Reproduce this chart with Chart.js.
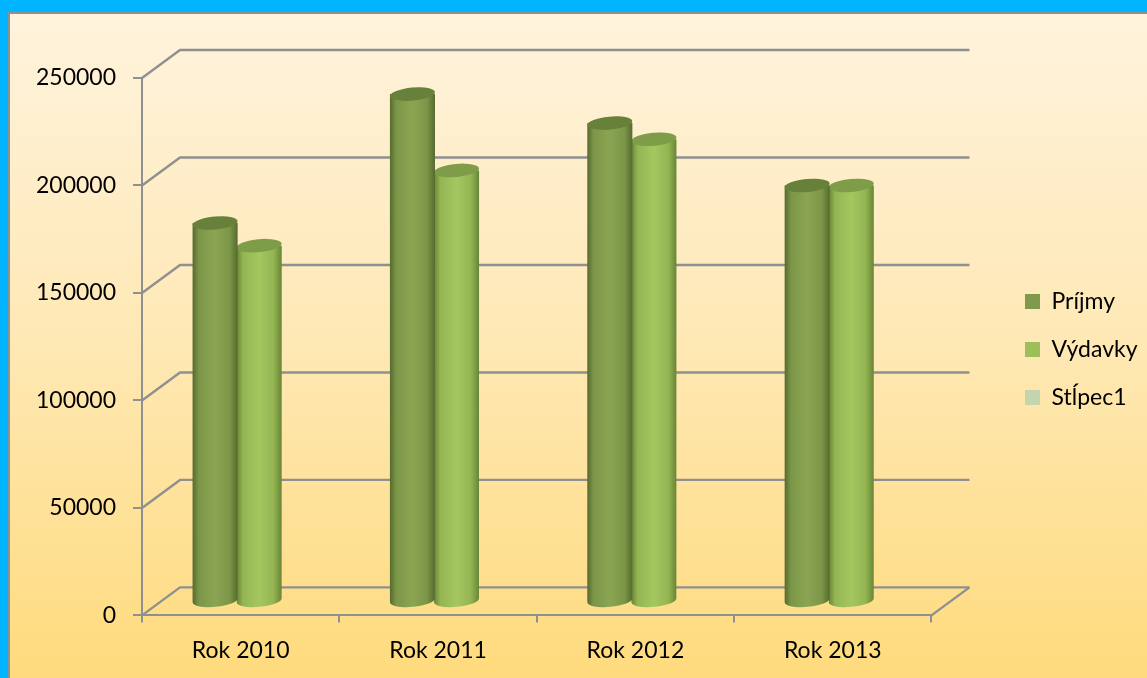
<!DOCTYPE html>
<html><head><meta charset="utf-8">
<style>html,body{margin:0;padding:0;background:#00b4ff}#w{position:absolute;left:0;top:0;width:1147px;height:678px}</style>
<script src="https://cdn.jsdelivr.net/npm/chart.js@4"></script>
</head><body><div id="w"><canvas id="c"></canvas></div>
<script>
const categories = ["Rok 2010","Rok 2011","Rok 2012","Rok 2013"];
const prijmy = [176000,236000,222500,193500];
const vydavky = [165500,200500,215000,193500];
const stlpec1 = [null,null,null,null];
const tickValues = [0,50000,100000,150000,200000,250000];

const DEPTH_X = 38, DEPTH_Y = 28;
const GRID = '#8f9090';
const shades = [
  {edge:'#566b2e',soft:'#7c9648',mid:'#8aa552',top:'#67803a'},
  {edge:'#688536',soft:'#94b552',mid:'#a5c760',top:'#7f9c48'},
  {edge:'#8faa8f',soft:'#b5caa2',mid:'#c4d6ae',top:'#a9c09a'}
];
const cylinders = {
  id:'cylinders',
  beforeDatasetDraw(chart,args){
    const ctx=chart.ctx, meta=args.meta, s=shades[args.index], yS=chart.scales.y;
    const zero=yS.getPixelForValue(0);
    meta.data.forEach((b,i)=>{
      if(chart.data.datasets[args.index].data[i]==null) return;
      const cx=b.x+DEPTH_X/2-0.5, rx=b.width/2+0.5, ry=6.5;
      const top=b.y-DEPTH_Y/2, base=zero-DEPTH_Y/2-1;
      const g=ctx.createLinearGradient(cx-rx,0,cx+rx,0);
      g.addColorStop(0,s.edge);g.addColorStop(.14,s.soft);
      g.addColorStop(.5,s.mid);g.addColorStop(.82,s.soft);g.addColorStop(1,s.edge);
      const tilt=-0.09;
      ctx.save();
      ctx.beginPath();
      ctx.moveTo(cx-rx,top);
      ctx.lineTo(cx-rx,base);
      ctx.ellipse(cx,base,rx,ry,tilt,Math.PI,0,true);
      ctx.lineTo(cx+rx,top);
      ctx.closePath();
      ctx.fillStyle=g;ctx.fill();
      ctx.beginPath();
      ctx.ellipse(cx,top,rx,ry,tilt,0,Math.PI*2);
      ctx.fillStyle=s.top;ctx.fill();
      ctx.restore();
    });
    return false;
  }
};
const frame = {
  id:'frame',
  afterLayout(chart){
    chart.legend.left=1000; chart.legend.top=265; chart.legend.right=1147; chart.legend.bottom=678;
  },
  beforeDraw(chart){
    const ctx=chart.ctx,W=chart.width,H=chart.height;
    ctx.save();
    ctx.fillStyle='#00b4ff';ctx.fillRect(0,0,W,H);
    const g=ctx.createLinearGradient(0,12,0,H);
    g.addColorStop(0,'#fff3dd');g.addColorStop(.5,'#fee8b4');g.addColorStop(1,'#ffdb7d');
    ctx.fillStyle=g;ctx.fillRect(9,13,W,H);
    ctx.fillStyle='#8f9090';ctx.fillRect(8,12,W,2);ctx.fillRect(8,12,2,H);
    ctx.restore();
  },
  beforeDatasetsDraw(chart){
    const ctx=chart.ctx,a=chart.chartArea,y=chart.scales.y;
    ctx.save();
    ctx.strokeStyle=GRID;ctx.lineWidth=2.4;ctx.lineJoin='round';
    tickValues.forEach(v=>{
      const p=y.getPixelForValue(v);
      ctx.beginPath();
      ctx.moveTo(a.left,p);
      ctx.lineTo(a.left+DEPTH_X,p-DEPTH_Y);
      ctx.lineTo(a.right+DEPTH_X,p-DEPTH_Y);
      ctx.stroke();
    });
    const z=y.getPixelForValue(0);
    ctx.beginPath();
    ctx.moveTo(a.right,z);ctx.lineTo(a.right+DEPTH_X,z-DEPTH_Y);ctx.stroke();
    ctx.restore();
  }
};
const font={family:'Lato, Carlito, sans-serif',size:23};
new Chart(document.getElementById('c'),{
  type:'bar',
  data:{labels:categories,datasets:[
    {label:'Príjmy',data:prijmy,backgroundColor:'#7f9a4c',borderWidth:0},
    {label:'Výdavky',data:vydavky,backgroundColor:'#9dbf59',borderWidth:0},
    {label:'Stĺpec1',data:stlpec1,backgroundColor:'#c3d5ae',borderWidth:0}
  ]},
  options:{
    responsive:true,maintainAspectRatio:false,animation:false,
    devicePixelRatio:1,
    layout:{padding:{top:78,bottom:0,left:0,right:68}},
    datasets:{bar:{barPercentage:1,categoryPercentage:0.67}},
    plugins:{
      tooltip:{enabled:false},
      legend:{display:true,position:'right',align:'start',
        labels:{boxWidth:15,boxHeight:15,padding:25,color:'#000',font}}
    },
    scales:{
      x:{offset:true,grid:{display:true,drawOnChartArea:false,drawTicks:true,tickLength:7,color:GRID,lineWidth:2,offset:true},
         border:{color:GRID,width:2},
         ticks:{color:'#000',font,padding:14,maxRotation:0}},
      y:{min:0,max:250000,afterFit(s){s.width=142;},
         afterBuildTicks(s){s.ticks=tickValues.map(v=>({value:v}));},
         grid:{drawOnChartArea:false,drawTicks:true,tickLength:9,color:GRID,lineWidth:2},
         border:{color:GRID,width:2},
         ticks:{color:'#000',font,padding:17,callback:v=>String(v)}}
    }
  },
  plugins:[frame,cylinders]
});
</script></body></html>
